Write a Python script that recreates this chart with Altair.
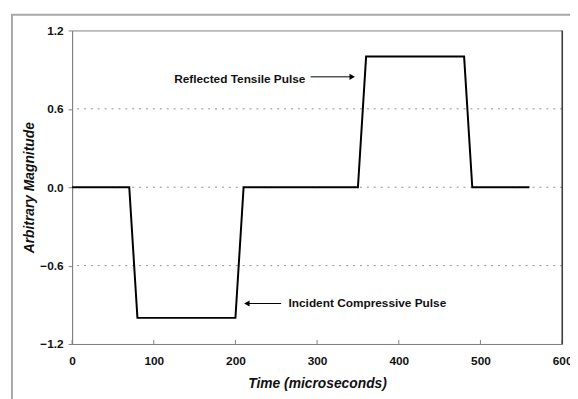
import altair as alt
import pandas as pd

time_us = [0, 70, 80, 200, 210, 350, 360, 480, 490, 560]
magnitude = [0, 0, -1, -1, 0, 0, 1, 1, 0, 0]
x_ticks = [0, 100, 200, 300, 400, 500, 600]
y_ticks = [-1.2, -0.6, 0.0, 0.6, 1.2]
grid_vals = [0.6, 0.0, -0.6]

ann_text = ["Reflected Tensile Pulse", "Incident Compressive Pulse"]
ann_x = [125, 265]
ann_y = [0.83, -0.89]
arrow_x = [292, 256]
arrow_x2 = [343, 214]
arrow_y = [0.845, -0.89]
arrow_shape = ["triangle-right", "triangle-left"]

W, H = 497, 318
FONT = "Liberation Sans"

line_df = pd.DataFrame({"t": time_us, "m": magnitude})
grid_df = pd.DataFrame({"g": grid_vals})
xt_df = pd.DataFrame({"t": x_ticks})
ann_df = pd.DataFrame({"text": ann_text, "x": ann_x, "y": ann_y})
arr_df = pd.DataFrame({"x": arrow_x, "x2": arrow_x2, "y": arrow_y, "shape": arrow_shape})

xs = alt.Scale(domain=[0, 600], nice=False, zero=False)
ys = alt.Scale(domain=[-1.2, 1.2], nice=False, zero=False)

xaxis = alt.Axis(values=x_ticks, title="Time (microseconds)", tickSize=0, labelPadding=12,
                 domainColor="#808080", grid=False, titlePadding=10, labelFlush=False,
                 labelOverlap=False, labelBound=False)
yaxis = alt.Axis(values=y_ticks, title="Arbitrary Magnitude", format=".1f", tickSize=4,
                 tickColor="#808080", domainColor="#808080", labelPadding=5, grid=False,
                 titleX=-36, titleY=H / 2, labelFlush=False, labelOverlap=False)

frame = alt.Chart(pd.DataFrame({"a": [0]})).mark_rect(
    fill=None, stroke="#a8a8a8", strokeWidth=2, clip=False
).encode(x=alt.value(-61), x2=alt.value(W + 40), y=alt.value(-16), y2=alt.value(H + 80))

grid = alt.Chart(grid_df).mark_rule(color="#909090", strokeDash=[2, 5], strokeWidth=1).encode(
    y=alt.Y("g:Q", scale=ys, axis=yaxis)
)

xticks = alt.Chart(xt_df).mark_rule(color="#808080").encode(
    x=alt.X("t:Q", scale=xs, axis=xaxis), y=alt.value(H), y2=alt.value(H - 4)
)

right_edge = alt.Chart(pd.DataFrame({"t": [600]})).mark_rule(color="#222222", strokeWidth=1.2).encode(
    x=alt.X("t:Q", scale=xs), y=alt.value(0), y2=alt.value(H)
)

line = alt.Chart(line_df).mark_line(color="black", strokeWidth=2).encode(
    x=alt.X("t:Q", scale=xs), y=alt.Y("m:Q", scale=ys)
)

text = alt.Chart(ann_df).mark_text(
    align="left", baseline="middle", font=FONT, fontWeight="bold", fontSize=12, color="#111111"
).encode(x=alt.X("x:Q", scale=xs), y=alt.Y("y:Q", scale=ys), text="text:N")

arrows = alt.Chart(arr_df).mark_rule(color="black", strokeWidth=1).encode(
    x=alt.X("x:Q", scale=xs), x2="x2:Q", y=alt.Y("y:Q", scale=ys)
)
heads = alt.Chart(arr_df).mark_point(filled=True, color="black", size=40, opacity=1).encode(
    x=alt.X("x2:Q", scale=xs), y=alt.Y("y:Q", scale=ys), shape=alt.Shape("shape:N", scale=None)
)

chart = alt.layer(frame, grid, xticks, right_edge, line, text, arrows, heads).properties(
    width=W, height=H,
    autosize=alt.AutoSizeParams(type="none"),
    padding={"left": 65, "top": 20, "right": 8, "bottom": 53},
).configure_view(stroke="#808080", strokeWidth=1).configure_axis(
    labelFont=FONT, labelFontWeight="bold", labelFontSize=12, labelColor="#111111",
    titleFont=FONT, titleFontWeight="bold", titleFontStyle="italic", titleFontSize=14,
    titleColor="#111111"
)

chart.save("out.html", embed_options={"renderer": "svg", "actions": False})
